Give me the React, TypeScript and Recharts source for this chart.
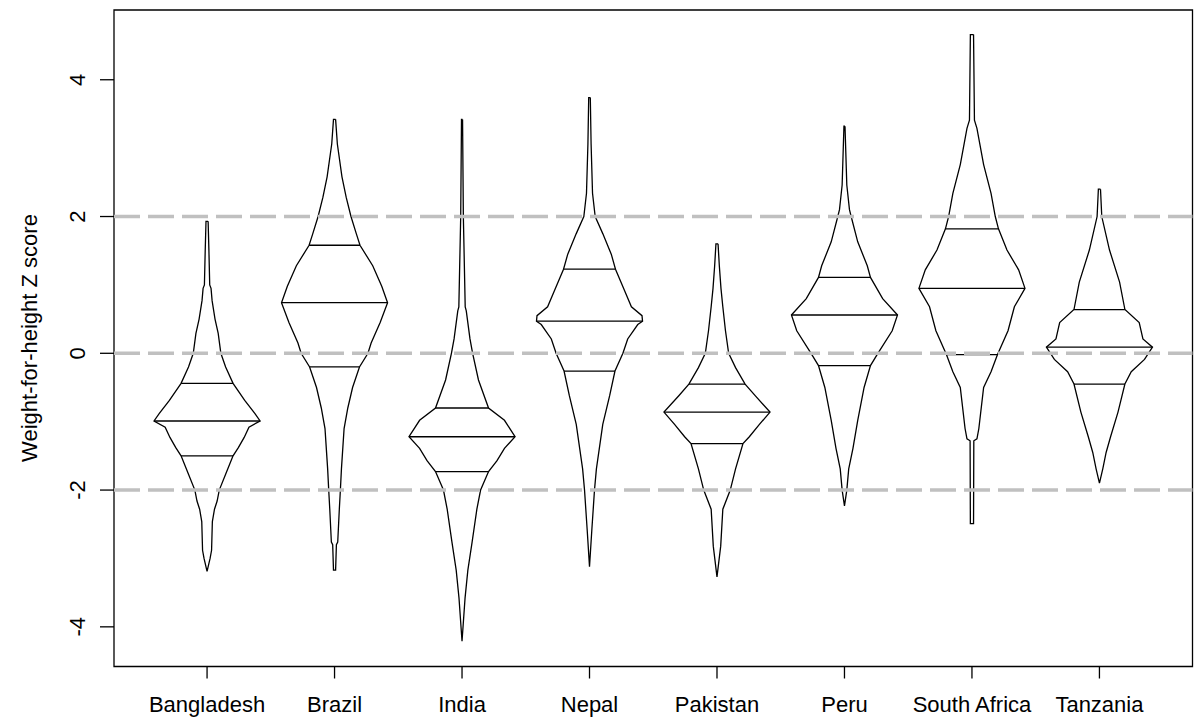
import { ComposedChart, Line, XAxis, YAxis, ReferenceLine, ReferenceArea } from "recharts";

const countries = ["Bangladesh", "Brazil", "India", "Nepal", "Pakistan", "Peru", "South Africa", "Tanzania"];
const positions = [1, 2, 3, 4, 5, 6, 7, 8];
const yTicks = [-4, -2, 0, 2, 4];
const cutoffs = [-2, 0, 2];

// quartile lines [upper, median, lower] per country
const upperQuartile = [-0.44, 1.58, -0.8, 1.23, -0.45, 1.11, 1.82, 0.64];
const medians = [-0.99, 0.74, -1.22, 0.47, -0.86, 0.56, 0.95, 0.09];
const lowerQuartile = [-1.5, -0.2, -1.73, -0.26, -1.32, -0.18, -0.02, -0.45];

// bean outlines: [z score, relative half width], top to bottom
const bangladesh = [
  [1.93, 0.02], [1.5, 0.035], [1.0, 0.05], [0.95, 0.075], [0.77, 0.095], [0.5, 0.15], [0.29, 0.21],
  [0, 0.26], [-0.2, 0.35], [-0.44, 0.49], [-0.69, 0.71], [-0.88, 0.9], [-0.99, 1.0], [-1.08, 0.79],
  [-1.23, 0.7], [-1.38, 0.59], [-1.5, 0.49], [-1.77, 0.35], [-2.0, 0.23], [-2.16, 0.19], [-2.28, 0.14],
  [-2.46, 0.1], [-2.88, 0.085], [-3.0, 0.057], [-3.19, 0],
];
const brazil = [
  [3.42, 0.02], [3.06, 0.053], [2.58, 0.14], [2.28, 0.22], [2.0, 0.31], [1.75, 0.41], [1.58, 0.48],
  [1.28, 0.72], [0.98, 0.89], [0.74, 1.0], [0.45, 0.86], [0.15, 0.69], [0, 0.63], [-0.2, 0.47],
  [-0.5, 0.34], [-0.8, 0.25], [-1.1, 0.18], [-1.69, 0.13], [-2.0, 0.11], [-2.28, 0.09], [-2.76, 0.06],
  [-2.8, 0.035], [-3.17, 0.02],
];
const india = [
  [3.42, 0.01], [2.0, 0.025], [0.68, 0.06], [0.62, 0.08], [0.21, 0.15], [0, 0.2], [-0.39, 0.31],
  [-0.8, 0.5], [-0.98, 0.8], [-1.22, 1.0], [-1.39, 0.8], [-1.57, 0.66], [-1.73, 0.5], [-2.0, 0.35],
  [-2.28, 0.28], [-2.76, 0.19], [-3.17, 0.11], [-3.58, 0.057], [-4.21, 0],
];
const nepal = [
  [3.74, 0.015], [3.06, 0.03], [2.34, 0.057], [2.0, 0.107], [1.75, 0.25], [1.45, 0.41], [1.23, 0.49],
  [0.92, 0.66], [0.68, 0.79], [0.55, 0.99], [0.47, 1.0], [0.42, 0.91], [0.21, 0.72], [0, 0.63],
  [-0.26, 0.48], [-0.62, 0.38], [-1.04, 0.25], [-1.69, 0.13], [-2.0, 0.094], [-2.58, 0.044], [-3.12, 0],
];
const pakistan = [
  [1.6, 0.02], [1.28, 0.044], [0.95, 0.075], [0.68, 0.11], [0.33, 0.16], [0, 0.22], [-0.21, 0.35],
  [-0.45, 0.53], [-0.62, 0.72], [-0.86, 1.0], [-1.04, 0.8], [-1.22, 0.61], [-1.32, 0.49], [-1.69, 0.35],
  [-2.0, 0.25], [-2.28, 0.11], [-2.82, 0.07], [-3.27, 0],
];
const peru = [
  [3.32, 0.01], [2.46, 0.044], [2.1, 0.094], [2.0, 0.126], [1.63, 0.25], [1.28, 0.43], [1.11, 0.49],
  [0.8, 0.72], [0.56, 1.0], [0.33, 0.9], [0, 0.63], [-0.18, 0.49], [-0.5, 0.37], [-0.98, 0.25],
  [-1.39, 0.16], [-1.69, 0.08], [-2.0, 0.044], [-2.23, 0],
];
const southAfrica = [
  [4.66, 0.03], [3.41, 0.047], [3.29, 0.094], [2.76, 0.22], [2.34, 0.36], [2.0, 0.44], [1.82, 0.5],
  [1.51, 0.66], [1.22, 0.88], [0.95, 1.0], [0.68, 0.8], [0.33, 0.68], [-0.02, 0.48], [-0.27, 0.36],
  [-0.5, 0.22], [-1.1, 0.13], [-1.25, 0.094], [-1.28, 0.035], [-2.49, 0.03],
];
const tanzania = [
  [2.4, 0.02], [2.0, 0.044], [1.51, 0.19], [1.04, 0.38], [0.64, 0.48], [0.45, 0.75], [0.21, 0.82],
  [0.09, 1.0], [-0.09, 0.85], [-0.27, 0.6], [-0.45, 0.48], [-0.86, 0.35], [-1.22, 0.21], [-1.45, 0.126],
  [-1.69, 0.063], [-1.9, 0],
];

const profiles = [bangladesh, brazil, india, nepal, pakistan, peru, southAfrica, tanzania];

const MAX_HALF = 0.416; // widest half width, in category units
const FONT = "'Liberation Sans', Arial, Helvetica, sans-serif";

function widthAt(profile: number[][], z: number) {
  for (let i = 0; i < profile.length - 1; i++) {
    const [z0, w0] = profile[i];
    const [z1, w1] = profile[i + 1];
    if (z <= z0 && z >= z1) {
      const t = z0 === z1 ? 0 : (z0 - z) / (z0 - z1);
      return w0 + (w1 - w0) * t;
    }
  }
  return 0;
}

function outline(profile: number[][], c: number) {
  const right = profile.map(([z, w]) => ({ x: c + w * MAX_HALF, y: z }));
  const left = [...profile].reverse().map(([z, w]) => ({ x: c - w * MAX_HALF, y: z }));
  return [...right, ...left, right[0]];
}

function segment(profile: number[][], c: number, z: number) {
  const w = widthAt(profile, z) * MAX_HALF;
  return [
    { x: c - w, y: z },
    { x: c + w, y: z },
  ];
}

const XTick = (props: any) => {
  const { x, payload } = props;
  return (
    <text x={x} y={712} textAnchor="middle" fontFamily={FONT} fontSize={22} fill="#000">
      {countries[payload.value - 1]}
    </text>
  );
};

const YTick = (props: any) => {
  const { y, payload } = props;
  return (
    <text
      transform={`translate(85, ${y}) rotate(-90)`}
      textAnchor="middle"
      fontFamily={FONT}
      fontSize={22}
      fill="#000"
    >
      {payload.value}
    </text>
  );
};

const YLabel = () => (
  <text
    transform="translate(37, 338) rotate(-90)"
    textAnchor="middle"
    fontFamily={FONT}
    fontSize={22}
    fill="#000"
  >
    Weight-for-height Z score
  </text>
);

export default function App() {
  return (
    <div style={{ position: "absolute", left: 0, top: 0, width: 1200, height: 722, background: "#fff" }}>
      <ComposedChart width={1200} height={722} margin={{ top: 10, right: 7.5, bottom: 0, left: 0 }}>
        <XAxis
          type="number"
          dataKey="x"
          domain={[0.27, 8.73]}
          allowDataOverflow
          ticks={positions}
          interval={0}
          axisLine={false}
          tickSize={12}
          tickLine={{ stroke: "#000", strokeWidth: 1.3 }}
          tick={<XTick />}
          height={55.5}
        />
        <YAxis
          type="number"
          dataKey="y"
          domain={[-4.58, 5.02]}
          allowDataOverflow
          ticks={yTicks}
          interval={0}
          axisLine={false}
          tickSize={14}
          tickLine={{ stroke: "#000", strokeWidth: 1.3 }}
          tick={<YTick />}
          width={114}
          label={<YLabel />}
        />
        <ReferenceArea
          x1={0.27}
          x2={8.73}
          y1={-4.58}
          y2={5.02}
          fill="none"
          stroke="#000"
          strokeWidth={1.3}
          ifOverflow="visible"
        />
        {profiles.map((p, i) => (
          <Line
            key={`bean-${i}`}
            data={outline(p, positions[i])}
            dataKey="y"
            type="linear"
            stroke="#000"
            strokeWidth={1.3}
            dot={false}
            activeDot={false}
            isAnimationActive={false}
          />
        ))}
        {profiles.map((p, i) =>
          [upperQuartile[i], medians[i], lowerQuartile[i]].map((q, j) => (
            <Line
              key={`q-${i}-${j}`}
              data={segment(p, positions[i], q)}
              dataKey="y"
              type="linear"
              stroke="#000"
              strokeWidth={1.3}
              dot={false}
              activeDot={false}
              isAnimationActive={false}
            />
          ))
        )}
        {cutoffs.map((c) => (
          <ReferenceLine key={c} y={c} stroke="#c0c0c0" strokeWidth={3.5} strokeDasharray="26 8" />
        ))}
      </ComposedChart>
    </div>
  );
}
